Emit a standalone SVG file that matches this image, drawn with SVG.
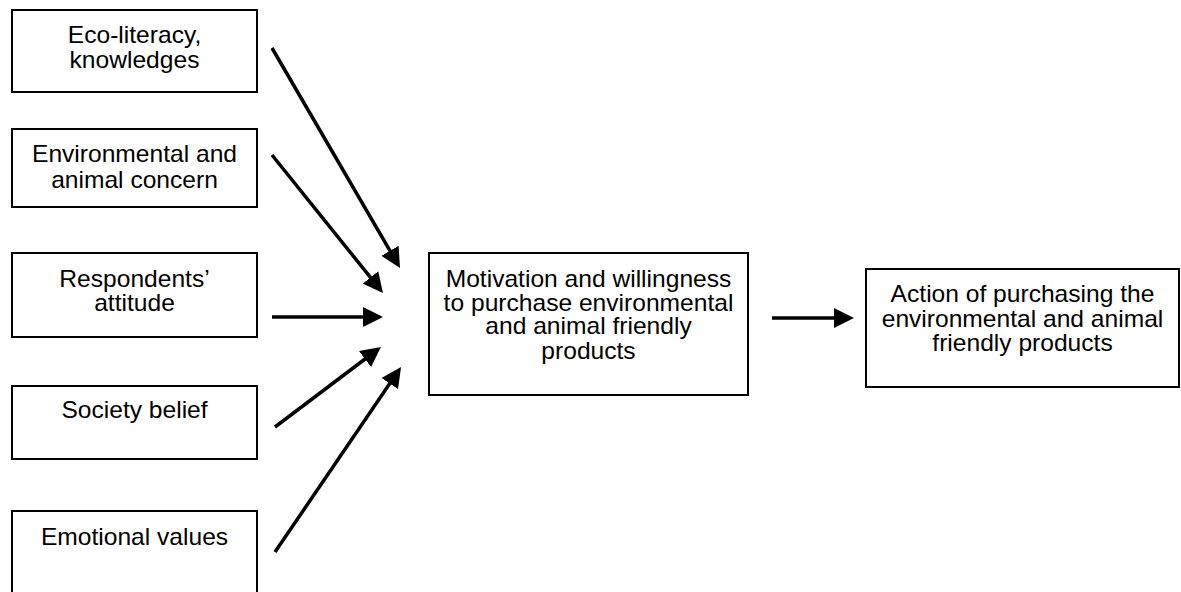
<svg xmlns="http://www.w3.org/2000/svg" width="1181" height="592" viewBox="0 0 1181 592">
<style>
.box{fill:#fff;stroke:#000;stroke-width:2}
.t{font-family:"Liberation Sans",Arial,Helvetica,sans-serif;font-size:23px;fill:#000;text-anchor:middle}
.c{stroke:#000;stroke-width:3.5;fill:none}
</style>
<defs>
<marker id="ah" markerUnits="userSpaceOnUse" viewBox="0 0 20 20" markerWidth="20" markerHeight="20" refX="10" refY="10" orient="auto">
<path d="M0,0 L20,10 L0,20 Z" fill="#000"/>
</marker>
</defs>
<rect width="1181" height="592" fill="#fff"/>
<g id="n1"><rect class="box" x="12" y="10" width="245" height="82"/>
<g transform="translate(134.5 0) scale(1.07 1)"><text class="t" y="43">Eco-literacy,</text><text class="t" y="68">knowledges</text></g></g>
<g id="n2"><rect class="box" x="12" y="129" width="245" height="78"/>
<g transform="translate(134.5 0) scale(1.07 1)"><text class="t" y="162">Environmental and</text><text class="t" y="188">animal concern</text></g></g>
<g id="n3"><rect class="box" x="12" y="253" width="245" height="84"/>
<g transform="translate(134.5 0) scale(1.07 1)"><text class="t" y="287">Respondents’</text><text class="t" y="311">attitude</text></g></g>
<g id="n4"><rect class="box" x="12" y="386" width="245" height="73"/>
<g transform="translate(134.5 0) scale(1.07 1)"><text class="t" y="418">Society belief</text></g></g>
<g id="n5"><rect class="box" x="12" y="511" width="245" height="100"/>
<g transform="translate(134.5 0) scale(1.07 1)"><text class="t" y="545">Emotional values</text></g></g>
<g id="n6"><rect class="box" x="429" y="253" width="319" height="142"/>
<g transform="translate(588.5 0) scale(1.07 1)"><text class="t" y="287">Motivation and willingness</text><text class="t" y="311">to purchase environmental</text><text class="t" y="334.5">and animal friendly</text><text class="t" y="359">products</text></g></g>
<g id="n7"><rect class="box" x="866" y="269" width="313" height="118"/>
<g transform="translate(1022.5 0) scale(1.07 1)"><text class="t" y="302">Action of purchasing the</text><text class="t" y="327">environmental and animal</text><text class="t" y="351">friendly products</text></g></g>
<g id="connectors">
<line class="c" x1="272" y1="48" x2="395" y2="259.4" marker-end="url(#ah)"/>
<line class="c" x1="272" y1="155" x2="376.7" y2="285.2" marker-end="url(#ah)"/>
<line class="c" x1="272" y1="317" x2="373" y2="317" marker-end="url(#ah)"/>
<line class="c" x1="275" y1="427" x2="373" y2="353" marker-end="url(#ah)"/>
<line class="c" x1="275" y1="552" x2="395.4" y2="375.3" marker-end="url(#ah)"/>
<line class="c" x1="772" y1="318" x2="844" y2="318" marker-end="url(#ah)"/>
</g>
</svg>
